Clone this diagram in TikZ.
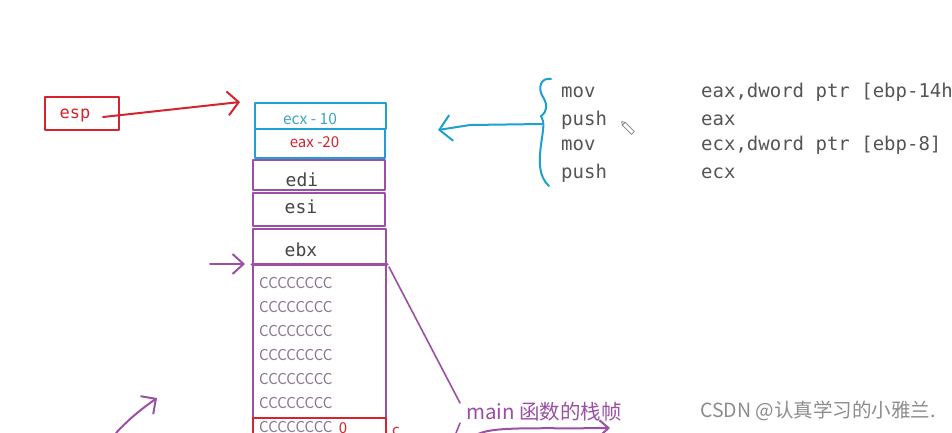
\documentclass[tikz,border=0pt]{standalone}
\usepackage{fontspec}
\setmainfont{Liberation Sans}
\newfontfamily\cjk{Noto Sans CJK SC}
\newfontfamily\mono{DejaVu Sans Mono}
\usetikzlibrary{arrows.meta}
\definecolor{myred}{RGB}{214,35,45}
\definecolor{mycyan}{RGB}{30,160,210}
\definecolor{lcyan}{RGB}{60,165,200}
\definecolor{mypurple}{RGB}{155,80,165}
\definecolor{codegray}{RGB}{85,85,85}
\definecolor{regtext}{RGB}{70,70,70}
\definecolor{ctext}{RGB}{140,120,145}
\definecolor{wm}{RGB}{140,140,140}
\begin{document}
\begin{tikzpicture}[x=1pt,y=-1pt,line cap=round,line join=round,
  cell/.style={draw,line width=2pt,inner sep=0pt},
  redcell/.style={cell,draw=myred},
  cyancell/.style={cell,draw=mycyan},
  purpcell/.style={cell,draw=mypurple},
  regtxt/.style={text=regtext,font=\mono\fontsize{18}{20}\selectfont,inner sep=0pt},
  ctxt/.style={text=ctext,font=\cjk\fontsize{15}{17}\selectfont,inner sep=0pt,anchor=west},
  codetxt/.style={text=codegray,font=\mono\fontsize{19}{21}\selectfont,inner sep=0pt,anchor=west},
  barb/.style={-{Straight Barb[length=11pt,width=24pt]}},
  redline/.style={draw=myred,line width=2pt},
  cyanline/.style={draw=mycyan,line width=2pt},
  purpline/.style={draw=mypurple,line width=2pt}]
\fill[white] (0,0) rectangle (952,432);
\clip (0,0) rectangle (952,432);

% esp box
\node[redcell,minimum width=74pt,minimum height=33pt] (esp) at (82,113) {};
\node[text=myred,font=\mono\fontsize{17}{20}\selectfont,inner sep=0pt] (esptxt) at (75,115.5) {esp};
\coordinate (espstart) at (103,117);
\coordinate (esptip) at (240,102);
\draw[redline,barb] (espstart) -- (esptip);

% stack cells
\node[cyancell,minimum width=131pt,minimum height=26pt] (ecx) at (320.5,116) {};
\node[text=lcyan,font=\cjk\fontsize{15.5}{17}\selectfont,inner sep=0pt] (ecxt) at (310,118.5) {ecx - 10};
\node[cyancell,minimum width=130pt,minimum height=29pt] (eax) at (320,143.5) {};
\node[text=myred,font=\cjk\fontsize{15}{17}\selectfont,inner sep=0pt] (eaxt) at (314.5,142) {eax -20};
\node[purpcell,minimum width=132pt,minimum height=30pt] (edi) at (319,175) {};
\node[regtxt] (edit) at (302,180) {edi};
\node[purpcell,minimum width=132pt,minimum height=33pt] (esi) at (319,209.5) {};
\node[regtxt] (esit) at (301,207) {esi};
\node[purpcell,minimum width=133pt,minimum height=35pt] (ebx) at (319.5,246.5) {};
\node[regtxt] (ebxt) at (301,250) {ebx};
\node[purpcell,minimum width=133pt,minimum height=153pt] (frame) at (319.5,341.5) {};
\draw[draw=mypurple,line width=3pt] (frame.north west) -- (frame.north east);
\foreach \i/\y in {1/283,2/307,3/331,4/355,5/379,6/403}{
  \node[ctxt] (c\i) at (259,\y) {CCCCCCCC};
}
\node[redcell,minimum width=133pt,minimum height=26pt] (low) at (319.5,431) {};
\node[ctxt] (c7) at (259,427) {CCCCCCCC};
\node[text=myred,font=\cjk\fontsize{15}{17}\selectfont,inner sep=0pt] (zero) at (343,428) {0};
\node[text=myred,font=\cjk\fontsize{15}{17}\selectfont,inner sep=0pt] (cc) at (396,431) {c};

% purple arrow to ebx/frame boundary
\coordinate (pstart) at (210,264);
\coordinate (ptip) at (245,264);
\draw[purpline,-{Straight Barb[length=11pt,width=20pt]}] (pstart) -- (ptip);

% diagonal line to label
\coordinate (dtop) at (389,267);
\coordinate (dbot) at (460,403);
\draw[draw=mypurple,line width=1.6pt] (dtop) -- (dbot);
\node[text=mypurple,font=\cjk\fontsize{20.5}{23}\selectfont,inner sep=0pt,anchor=west] (mainlbl) at (466,412) {main 函数的栈帧};

% bottom strokes
\coordinate (s1) at (460,423);
\coordinate (s2) at (456,433);
\draw[draw=mypurple,line width=1.6pt] (s1) -- (s2);
\coordinate (b1) at (478,434);
\coordinate (b2) at (610,428);
\draw[purpline,-{Straight Barb[length=9pt,width=16pt]}] (b1) .. controls (495,426) and (540,429) .. (b2);
\coordinate (l1) at (116,433);
\coordinate (l2) at (157,398);
\draw[purpline,-{Straight Barb[length=11pt,width=22pt]}] (l1) .. controls (128,420) and (140,410) .. (l2);

% code
\node[codetxt] (m1) at (561,92) {mov};
\node[codetxt] (m2) at (561,120) {push};
\node[codetxt] (m3) at (561,145) {mov};
\node[codetxt] (m4) at (561,173) {push};
\node[codetxt] (o1) at (701,92) {eax,dword ptr [ebp-14h]};
\node[codetxt] (o2) at (701,120) {eax};
\node[codetxt] (o3) at (701,145) {ecx,dword ptr [ebp-8]};
\node[codetxt] (o4) at (701,173) {ecx};

% brace and cyan arrow
\coordinate (bmid) at (542,124);
\draw[cyanline] (551,79) .. controls (541,77) and (537,88) .. (543,97)
  .. controls (548,105) and (547,112) .. (541,116)
  .. controls (545,122) and (543,130) .. (541,145)
  .. controls (539,160) and (538,176) .. (549,186);
\coordinate (ctip) at (438,130);
\draw[cyanline,-{Straight Barb[length=12pt,width=26pt]}] (bmid) -- (470,125) -- (ctip);

% pencil cursor
\draw[draw=gray,line width=0.8pt,rotate around={-45:(628,128)}] (622,126) rectangle (635,130);
\draw[draw=gray,line width=0.8pt,rotate around={-45:(628,128)}] (622,126) -- (619,128) -- (622,130);

% watermark
\node[text=wm,font=\cjk\fontsize{19.5}{22}\selectfont,inner sep=0pt,anchor=west] (wmk) at (700,411) {CSDN @认真学习的小雅兰.};
\end{tikzpicture}
\end{document}
